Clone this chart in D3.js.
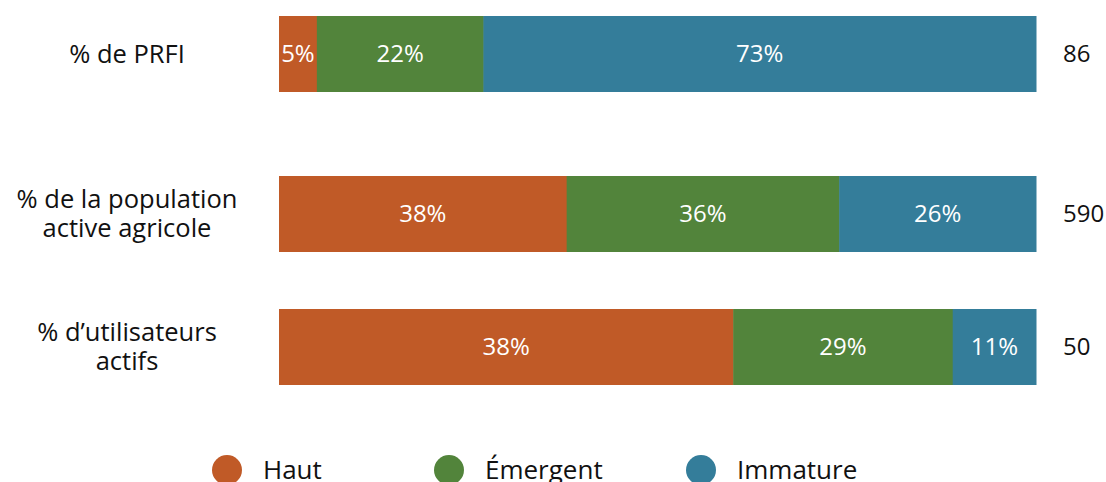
<!DOCTYPE html>
<html>
<head>
<meta charset="utf-8">
<script src="https://cdn.jsdelivr.net/npm/d3@7"></script>
<style>
  body { margin: 0; background: #fff; }
  svg text { font-family: "Open Sans", sans-serif; }
</style>
</head>
<body>
<svg id="chart" width="1106" height="482"></svg>
<script>
// categories (rows, top to bottom), each label split on lines
var categories = ["PRFI", "population", "utilisateurs"];
var categoryLines = [["% de PRFI"], ["% de la population", "active agricole"], ["% d\u2019utilisateurs", "actifs"]];
var totals = ["86", "590", "50"];

// series
var series = ["Haut", "Émergent", "Immature"];
var colors = ["#C05A27", "#52843B", "#347D9A"];

// segment widths (percent)
var hautValues = [5, 38, 60];
var emergentValues = [22, 36, 29];
var immatureValues = [73, 26, 11];

// printed labels inside segments
var hautLabels = ["5%", "38%", "38%"];
var emergentLabels = ["22%", "36%", "29%"];
var immatureLabels = ["73%", "26%", "11%"];

var svg = d3.select("#chart");

var x = d3.scaleLinear().domain([0, 100]).range([279, 1036]);
var y = d3.scaleOrdinal().domain(categories).range([16, 176, 309]);
var barH = 76;

var color = d3.scaleOrdinal().domain(series).range(colors);

var rows = categories.map(function(c, i){
  return { cat: c, Haut: hautValues[i], "Émergent": emergentValues[i], Immature: immatureValues[i],
           labels: [hautLabels[i], emergentLabels[i], immatureLabels[i]] };
});

var stack = d3.stack().keys(series)(rows);

var layers = svg.selectAll("g.layer").data(stack).enter().append("g")
  .attr("class", "layer")
  .attr("fill", function(d){ return color(d.key); });

layers.selectAll("rect").data(function(d){ return d; }).enter().append("rect")
  .attr("x", function(d){ return x(d[0]); })
  .attr("width", function(d){ return x(d[1]) - x(d[0]) + 0.5; })
  .attr("y", function(d){ return y(d.data.cat); })
  .attr("height", barH);

layers.each(function(layer, k){
  d3.select(this).selectAll("text").data(layer).enter().append("text")
    .attr("x", function(d){ return (x(d[0]) + x(d[1])) / 2; })
    .attr("y", function(d){ return y(d.data.cat) + barH / 2; })
    .attr("dy", "0.35em")
    .attr("text-anchor", "middle")
    .attr("fill", "#fff")
    .style("font-size", "24px")
    .text(function(d){ return d.data.labels[k]; });
});

// category labels on the left
categories.forEach(function(c, i){
  var lines = categoryLines[i];
  var cy = y(c) + barH / 2;
  var t = svg.append("text")
    .attr("text-anchor", "middle")
    .attr("fill", "#111")
    .style("font-size", "25.5px");
  lines.forEach(function(l, j){
    t.append("tspan")
      .attr("x", 127)
      .attr("y", cy + (j - (lines.length - 1) / 2) * 29)
      .attr("dy", "0.35em")
      .text(l);
  });
});

// totals on the right
svg.selectAll("text.total").data(categories).enter().append("text")
  .attr("class", "total")
  .attr("x", 1063)
  .attr("y", function(d){ return y(d) + barH / 2; })
  .attr("dy", "0.35em")
  .attr("fill", "#111")
  .style("font-size", "24px")
  .text(function(d, i){ return totals[i]; });

// legend
var legendX = d3.scaleOrdinal().domain(series).range([227, 449, 701]);
var legend = svg.selectAll("g.legend").data(series).enter().append("g")
  .attr("class", "legend")
  .attr("transform", function(d){ return "translate(" + legendX(d) + ",470)"; });

legend.append("ellipse")
  .attr("rx", 15)
  .attr("ry", 15)
  .attr("fill", function(d){ return color(d); });

legend.append("text")
  .attr("x", 36)
  .attr("dy", "0.35em")
  .attr("fill", "#111")
  .style("font-size", "26px")
  .text(function(d){ return d; });
</script>
</body>
</html>
